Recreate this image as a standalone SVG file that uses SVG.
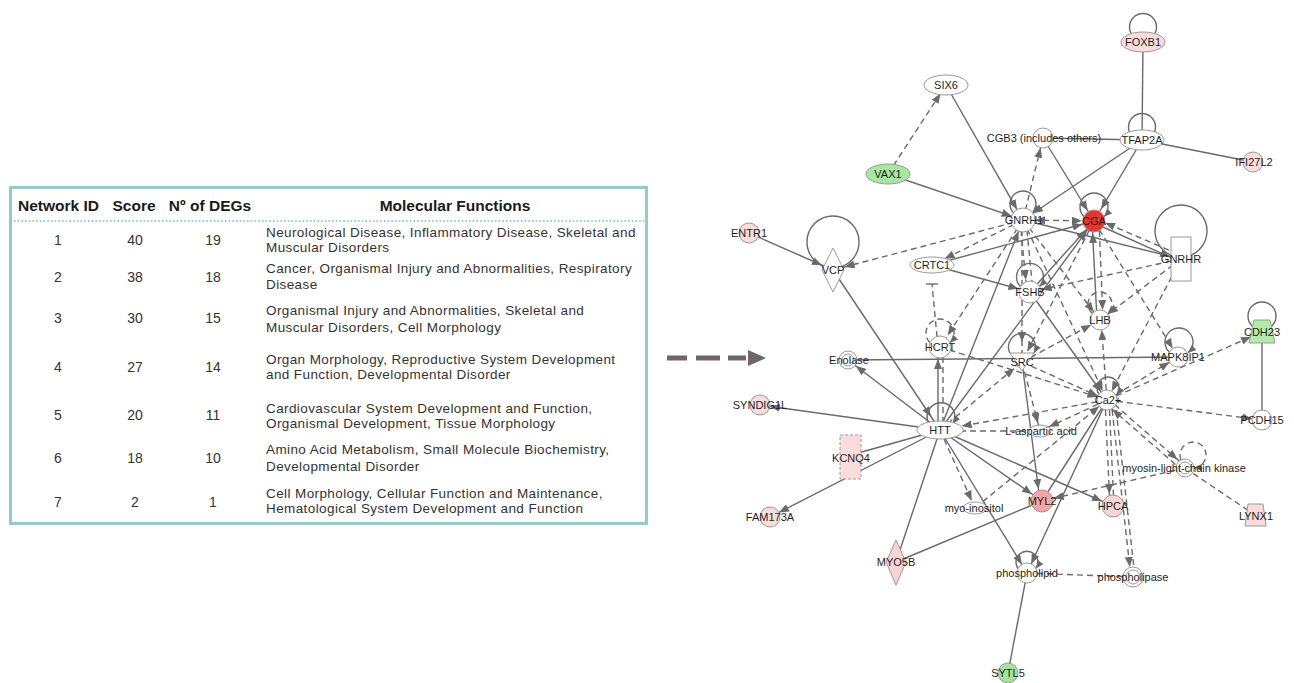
<svg xmlns="http://www.w3.org/2000/svg" width="1294" height="683" viewBox="0 0 1294 683">
<style>
.s{stroke:#6a6a6a;stroke-width:1.4;fill:none}
.d{stroke:#6a6a6a;stroke-width:1.4;fill:none;stroke-dasharray:6 4}
.nd{stroke:#9a9a9a;stroke-width:1;fill:#fff}
.pk{fill:#fbdcdc}
.n{font-family:"Liberation Sans",Arial,sans-serif;font-size:11px;fill:#1e1e1e;text-anchor:middle}
.th{font-family:"Liberation Sans",Arial,sans-serif;font-size:15.5px;font-weight:bold;fill:#1a1a1a;text-anchor:middle}
.tn{font-family:"Liberation Sans",Arial,sans-serif;font-size:14px;fill:#333;text-anchor:middle}
.tf{font-family:"Liberation Sans",Arial,sans-serif;font-size:13.5px;letter-spacing:0.4px;fill:#333}
</style>
<defs>
<marker id="a0" viewBox="0 0 10 8" refX="10" refY="4" markerWidth="10" markerHeight="8" markerUnits="userSpaceOnUse" orient="auto-start-reverse"><path d="M0,0L10,4L0,8Z" fill="#6a6a6a"/></marker>
<marker id="a8" viewBox="0 0 10 8" refX="18" refY="4" markerWidth="10" markerHeight="8" markerUnits="userSpaceOnUse" orient="auto-start-reverse"><path d="M0,0L10,4L0,8Z" fill="#6a6a6a"/></marker>
<marker id="a10" viewBox="0 0 10 8" refX="20" refY="4" markerWidth="10" markerHeight="8" markerUnits="userSpaceOnUse" orient="auto-start-reverse"><path d="M0,0L10,4L0,8Z" fill="#6a6a6a"/></marker>
<marker id="a12" viewBox="0 0 10 8" refX="22" refY="4" markerWidth="10" markerHeight="8" markerUnits="userSpaceOnUse" orient="auto-start-reverse"><path d="M0,0L10,4L0,8Z" fill="#6a6a6a"/></marker>
<marker id="a14" viewBox="0 0 10 8" refX="24" refY="4" markerWidth="10" markerHeight="8" markerUnits="userSpaceOnUse" orient="auto-start-reverse"><path d="M0,0L10,4L0,8Z" fill="#6a6a6a"/></marker>
<marker id="a16" viewBox="0 0 10 8" refX="26" refY="4" markerWidth="10" markerHeight="8" markerUnits="userSpaceOnUse" orient="auto-start-reverse"><path d="M0,0L10,4L0,8Z" fill="#6a6a6a"/></marker>
<marker id="a20" viewBox="0 0 10 8" refX="30" refY="4" markerWidth="10" markerHeight="8" markerUnits="userSpaceOnUse" orient="auto-start-reverse"><path d="M0,0L10,4L0,8Z" fill="#6a6a6a"/></marker>
<marker id="a22" viewBox="0 0 10 8" refX="32" refY="4" markerWidth="10" markerHeight="8" markerUnits="userSpaceOnUse" orient="auto-start-reverse"><path d="M0,0L10,4L0,8Z" fill="#6a6a6a"/></marker>
<marker id="lp" viewBox="0 0 8 7" refX="8" refY="3.5" markerWidth="8" markerHeight="7" markerUnits="userSpaceOnUse" orient="auto"><path d="M0,0L8,3.5L0,7Z" fill="#6a6a6a"/></marker>
</defs>
<rect width="1294" height="683" fill="#fff"/>

<g id="table">
<rect x="10.5" y="187.5" width="636" height="336" fill="#fff" stroke="#8ccfc8" stroke-width="3"/>
<line x1="14" y1="221" x2="644" y2="221" stroke="#8ccfc8" stroke-width="2" stroke-dasharray="1.5 2.2"/>
<text class="th" x="58.5" y="211">Network ID</text>
<text class="th" x="134" y="211">Score</text>
<text class="th" x="210" y="211">Nº of DEGs</text>
<text class="th" x="455" y="211">Molecular Functions</text>
<text class="tn" x="58" y="245">1</text><text class="tn" x="135" y="245">40</text><text class="tn" x="213" y="245">19</text>
<text class="tf" x="266" y="237">Neurological Disease, Inflammatory Disease, Skeletal and</text>
<text class="tf" x="266" y="252">Muscular Disorders</text>
<text class="tn" x="58" y="282">2</text><text class="tn" x="135" y="282">38</text><text class="tn" x="213" y="282">18</text>
<text class="tf" x="266" y="273">Cancer, Organismal Injury and Abnormalities, Respiratory</text>
<text class="tf" x="266" y="289">Disease</text>
<text class="tn" x="58" y="323">3</text><text class="tn" x="135" y="323">30</text><text class="tn" x="213" y="323">15</text>
<text class="tf" x="266" y="315">Organismal Injury and Abnormalities, Skeletal and</text>
<text class="tf" x="266" y="332">Muscular Disorders, Cell Morphology</text>
<text class="tn" x="58" y="372">4</text><text class="tn" x="135" y="372">27</text><text class="tn" x="213" y="372">14</text>
<text class="tf" x="266" y="364">Organ Morphology, Reproductive System Development</text>
<text class="tf" x="266" y="379">and Function, Developmental Disorder</text>
<text class="tn" x="58" y="420">5</text><text class="tn" x="135" y="420">20</text><text class="tn" x="213" y="420">11</text>
<text class="tf" x="266" y="413">Cardiovascular System Development and Function,</text>
<text class="tf" x="266" y="428">Organismal Development, Tissue Morphology</text>
<text class="tn" x="58" y="463">6</text><text class="tn" x="135" y="463">18</text><text class="tn" x="213" y="463">10</text>
<text class="tf" x="266" y="454">Amino Acid Metabolism, Small Molecule Biochemistry,</text>
<text class="tf" x="266" y="471">Developmental Disorder</text>
<text class="tn" x="58" y="507">7</text><text class="tn" x="135" y="507">2</text><text class="tn" x="213" y="507">1</text>
<text class="tf" x="266" y="498">Cell Morphology, Cellular Function and Maintenance,</text>
<text class="tf" x="266" y="513">Hematological System Development and Function</text>
</g>

<g id="big-arrow">
<line x1="667" y1="358" x2="687" y2="358" stroke="#6e6668" stroke-width="5"/>
<line x1="696" y1="358" x2="720" y2="358" stroke="#6e6668" stroke-width="5"/>
<line x1="728" y1="358" x2="746" y2="358" stroke="#6e6668" stroke-width="5"/>
<polygon points="748,350 766,358 748,366" fill="#6e6668"/>
</g>

<g id="connectors">
<circle class="s" cx="1143" cy="27" r="13.5"/>
<circle class="s" cx="1142" cy="127" r="13.5"/>
<circle class="s" cx="833" cy="242" r="26"/>
<circle class="s" cx="1181" cy="231" r="26"/>
<circle class="s" cx="1262" cy="316" r="14"/>
<path class="s" d="M1013.4,212.8A13,13 0 1 1 1032.6,212.8" marker-end="url(#lp)"/>
<path class="s" d="M1083.9,216.7A14,14 0 1 1 1104.1,216.7" marker-end="url(#lp)"/>
<path class="s" d="M1020.5,286.5A13.5,13.5 0 1 1 1039.5,286.5" marker-end="url(#lp)"/>
<path class="d" d="M1092.5,313.4A12,12 0 1 1 1107.5,313.4" marker-end="url(#lp)"/>
<path class="d" d="M929.9,342.7A14,14 0 1 1 950.1,342.7" marker-end="url(#lp)"/>
<path class="s" d="M1009.9,353A13.5,13.5 0 1 1 1034.1,353" marker-end="url(#lp)"/>
<path class="s" d="M1170,352.7A14,14 0 1 1 1188,352.7" marker-end="url(#lp)"/>
<path class="s" d="M1099.4,394.9A11,11 0 1 1 1116.6,394.9" marker-end="url(#lp)"/>
<path class="s" d="M929,424A14,14 0 1 1 953,424" marker-end="url(#lp)"/>
<path class="s" d="M1018,568.5A11,11 0 1 1 1036,568.5" marker-end="url(#lp)"/>
<path class="d" d="M1181,460A13,13 0 1 1 1194,468" marker-end="url(#lp)"/>

<line class="s" x1="946" y1="85" x2="1023" y2="220" marker-end="url(#a12)"/>
<line class="s" x1="888" y1="174" x2="1023" y2="220" marker-end="url(#a12)"/>
<line class="s" x1="1043" y1="138" x2="1094" y2="221" marker-end="url(#a12)"/>
<line class="s" x1="1043" y1="138" x2="1142" y2="140"/>
<line class="s" x1="1143" y1="42" x2="1142" y2="140"/>
<line class="s" x1="1142" y1="140" x2="1253" y2="162"/>
<line class="s" x1="1142" y1="140" x2="1023" y2="220" marker-end="url(#a12)"/>
<line class="s" x1="1142" y1="140" x2="1094" y2="221" marker-end="url(#a14)"/>
<line class="s" x1="749" y1="233" x2="833" y2="270" marker-end="url(#a12)"/>
<line class="s" x1="833" y1="270" x2="940" y2="430" marker-end="url(#a16)"/>
<line class="s" x1="932" y1="265" x2="1030" y2="292" marker-end="url(#a12)"/>
<line class="s" x1="932" y1="265" x2="1094" y2="221" marker-end="url(#a12)"/>
<line class="s" x1="1023" y1="220" x2="1181" y2="259"/>
<line class="s" x1="1094" y1="223" x2="1181" y2="262" marker-end="url(#a12)"/>
<line class="s" x1="1097" y1="320" x2="1092" y2="221" marker-end="url(#a12)"/>
<line class="s" x1="1030" y1="292" x2="1094" y2="221" marker-end="url(#a12)"/>
<line class="s" x1="1030" y1="292" x2="1107" y2="400" marker-end="url(#a10)"/>
<line class="s" x1="940" y1="430" x2="1023" y2="220" marker-end="url(#a12)"/>
<line class="s" x1="940" y1="430" x2="1094" y2="221" marker-end="url(#a12)"/>
<line class="s" x1="848" y1="360" x2="1178" y2="357"/>
<line class="s" x1="940" y1="430" x2="848" y2="360" marker-end="url(#a10)"/>
<line class="s" x1="940" y1="430" x2="760" y2="405" marker-end="url(#a10)"/>
<line class="s" x1="938" y1="430" x2="938" y2="347" marker-end="url(#a12)"/>
<line class="s" x1="940" y1="430" x2="851" y2="455"/>
<line class="s" x1="940" y1="430" x2="770" y2="517" marker-end="url(#a10)"/>
<line class="s" x1="940" y1="430" x2="896" y2="562"/>
<line class="s" x1="896" y1="562" x2="1042" y2="501"/>
<line class="s" x1="940" y1="430" x2="1042" y2="501" marker-end="url(#a12)"/>
<line class="s" x1="940" y1="430" x2="1113" y2="506" marker-end="url(#a12)"/>
<line class="s" x1="940" y1="430" x2="1027" y2="573" marker-end="url(#a10)"/>
<line class="s" x1="1022" y1="362" x2="1040" y2="501" marker-end="url(#a12)"/>
<line class="s" x1="1107" y1="400" x2="1042" y2="501"/>
<line class="s" x1="1107" y1="400" x2="1027" y2="573" marker-end="url(#a10)"/>
<line class="s" x1="1262" y1="332" x2="1262" y2="420"/>
<line class="s" x1="1027" y1="573" x2="1008" y2="673"/>

<line class="d" x1="888" y1="174" x2="946" y2="85" marker-end="url(#a10)"/>
<line class="d" x1="1023" y1="220" x2="1043" y2="138" marker-end="url(#a10)"/>
<line class="d" x1="1023" y1="220" x2="1094" y2="221" marker-start="url(#a12)" marker-end="url(#a12)"/>
<line class="d" x1="1023" y1="220" x2="932" y2="265" marker-end="url(#a14)"/>
<line class="d" x1="1023" y1="220" x2="833" y2="270" marker-end="url(#a12)"/>
<line class="d" x1="1020" y1="220" x2="1027" y2="292" marker-end="url(#a12)"/>
<line class="d" x1="1026" y1="220" x2="1033" y2="292"/>
<line class="d" x1="1022" y1="220" x2="1022" y2="362" marker-end="url(#a20)"/>
<line class="d" x1="1023" y1="220" x2="940" y2="347" marker-end="url(#a14)"/>
<line class="d" x1="1023" y1="220" x2="1100" y2="320" marker-end="url(#a10)"/>
<line class="d" x1="1023" y1="220" x2="1107" y2="400" marker-end="url(#a10)"/>
<line class="d" x1="1099" y1="221" x2="1103" y2="320" marker-end="url(#a10)"/>
<line class="d" x1="1094" y1="221" x2="1022" y2="362" marker-end="url(#a12)"/>
<line class="d" x1="1094" y1="221" x2="1178" y2="357" marker-end="url(#a10)"/>
<line class="d" x1="1178" y1="254" x2="1094" y2="218" marker-end="url(#a12)"/>
<line class="d" x1="1181" y1="259" x2="1030" y2="292" marker-end="url(#a12)"/>
<line class="d" x1="1181" y1="259" x2="1100" y2="320" marker-end="url(#a10)"/>
<line class="d" x1="1181" y1="259" x2="1107" y2="400" marker-end="url(#a10)"/>
<line class="d" x1="1022" y1="362" x2="1100" y2="320" marker-end="url(#a10)"/>
<line class="d" x1="1107" y1="400" x2="1101" y2="320" marker-end="url(#a10)"/>
<line class="d" x1="1107" y1="400" x2="1178" y2="357" marker-end="url(#a10)"/>
<line class="d" x1="1107" y1="400" x2="1262" y2="332" marker-end="url(#a12)"/>
<line class="d" x1="1107" y1="400" x2="1262" y2="420" marker-end="url(#a10)"/>
<line class="d" x1="1022" y1="362" x2="1107" y2="400" marker-end="url(#a10)"/>
<line class="d" x1="940" y1="347" x2="1107" y2="400" marker-end="url(#a10)"/>
<line class="d" x1="1107" y1="400" x2="940" y2="430" marker-end="url(#a22)"/>
<line class="d" x1="1107" y1="400" x2="1040" y2="431" marker-end="url(#a10)"/>
<line class="d" x1="940" y1="431" x2="1040" y2="431"/>
<line class="d" x1="1022" y1="362" x2="1040" y2="431" marker-end="url(#a8)"/>
<line class="d" x1="940" y1="430" x2="1022" y2="362" marker-end="url(#a10)"/>
<line class="d" x1="938" y1="347" x2="932" y2="284"/>
<line x1="926" y1="284" x2="938" y2="284" stroke="#6a6a6a" stroke-width="1.4"/>
<line class="d" x1="943" y1="347" x2="943" y2="430"/>
<line class="d" x1="940" y1="430" x2="975" y2="508" marker-end="url(#a8)"/>
<line class="d" x1="975" y1="508" x2="1107" y2="400" marker-end="url(#a10)"/>
<line class="d" x1="1105" y1="400" x2="1110" y2="506" marker-end="url(#a12)"/>
<line class="d" x1="1109" y1="400" x2="1114" y2="506"/>
<line class="d" x1="1111" y1="400" x2="1131" y2="577" marker-end="url(#a10)"/>
<line class="d" x1="1115" y1="400" x2="1135" y2="577"/>
<line class="d" x1="1107" y1="398" x2="1185" y2="466" marker-end="url(#a10)"/>
<line class="d" x1="1183" y1="471" x2="1105" y2="403" marker-end="url(#a10)"/>
<line class="d" x1="1185" y1="468" x2="1042" y2="501" marker-end="url(#a12)"/>
<line class="d" x1="1185" y1="468" x2="1255" y2="515"/>
<line class="d" x1="1027" y1="573" x2="1133" y2="577"/>
</g>

<g id="FOXB1"><ellipse class="nd pk" cx="1143" cy="42" rx="22" ry="10"/><text class="n" x="1143" y="45.8">FOXB1</text></g>
<g id="SIX6"><ellipse class="nd" cx="946" cy="85" rx="22" ry="10"/><text class="n" x="946" y="88.8">SIX6</text></g>
<g id="TFAP2A"><ellipse class="nd" cx="1142" cy="140" rx="22" ry="10"/><text class="n" x="1142" y="143.8">TFAP2A</text></g>
<g id="CGB3"><circle class="nd" cx="1043" cy="138" r="10"/><text class="n" x="1044" y="141.8">CGB3 (includes others)</text></g>
<g id="IFI27L2"><circle class="nd pk" cx="1253" cy="162" r="10"/><text class="n" x="1254" y="165.8">IFI27L2</text></g>
<g id="VAX1"><ellipse class="nd" style="fill:#a6e8a0" cx="888" cy="174" rx="22" ry="10"/><text class="n" x="888" y="177.8">VAX1</text></g>
<g id="GNRH1"><circle class="nd" cx="1023" cy="220" r="12"/><text class="n" x="1024" y="223.8">GNRH1</text></g>
<g id="CGA"><circle class="nd" style="fill:#e8332f" cx="1094" cy="221" r="11"/><text class="n" x="1094" y="224.8">CGA</text></g>
<g id="ENTR1"><circle class="nd pk" cx="749" cy="233" r="10"/><text class="n" x="749" y="236.8">ENTR1</text></g>
<g id="VCP"><polygon class="nd" points="833,248 844,270 833,292 822,270"/><text class="n" x="833" y="273.8">VCP</text></g>
<g id="CRTC1"><ellipse class="nd" cx="932" cy="265" rx="22" ry="8"/><text class="n" x="932" y="268.8">CRTC1</text></g>
<g id="GNRHR"><rect class="nd" x="1171" y="237" width="20" height="44"/><text class="n" x="1181" y="262.8">GNRHR</text></g>
<g id="FSHB"><circle class="nd" cx="1030" cy="292" r="11"/><text class="n" x="1030" y="295.8">FSHB</text></g>
<g id="LHB"><circle class="nd" cx="1100" cy="320" r="10"/><text class="n" x="1100" y="323.8">LHB</text></g>
<g id="HCRT"><circle class="nd" cx="940" cy="347" r="11"/><text class="n" x="940" y="350.8">HCRT</text></g>
<g id="SRC"><polygon class="nd" points="1010,353 1034,353 1022,371"/><text class="n" x="1022" y="365.8">SRC</text></g>
<g id="Enolase"><circle class="nd" cx="848" cy="360" r="9"/><circle class="nd" cx="848" cy="360" r="6"/><text class="n" x="849" y="363.8">Enolase</text></g>
<g id="MAPK8IP1"><circle class="nd" cx="1178" cy="357" r="10"/><text class="n" x="1178" y="360.8">MAPK8IP1</text></g>
<g id="CDH23"><polygon class="nd" style="fill:#b3ecaa" points="1254,320 1270,320 1275,343 1249,343"/><text class="n" x="1262" y="335.8">CDH23</text></g>
<g id="Ca2"><circle class="nd" cx="1107" cy="400" r="10"/><text class="n" x="1108" y="403.8">Ca2+</text></g>
<g id="SYNDIG1L"><circle class="nd pk" cx="760" cy="405" r="10"/><text class="n" x="760" y="408.8">SYNDIG1L</text></g>
<g id="PCDH15"><circle class="nd" cx="1262" cy="420" r="10"/><text class="n" x="1262" y="423.8">PCDH15</text></g>
<g id="HTT"><ellipse class="nd" cx="940" cy="430" rx="23" ry="9"/><text class="n" x="940" y="433.8">HTT</text></g>
<g id="L-aspartic-acid"><ellipse class="nd" cx="1040" cy="431" rx="11" ry="6"/><text class="n" x="1041" y="434.8">L-aspartic acid</text></g>
<g id="KCNQ4"><rect class="nd pk" style="stroke-dasharray:3 2" x="840" y="435" width="21" height="44"/><text class="n" x="851" y="461.8">KCNQ4</text></g>
<g id="myosin-light-chain-kinase"><circle class="nd" cx="1185" cy="468" r="9"/><circle class="nd" cx="1185" cy="468" r="6"/><text class="n" x="1184" y="471.8">myosin-light-chain kinase</text></g>
<g id="FAM173A"><circle class="nd pk" cx="770" cy="517" r="10"/><text class="n" x="770" y="520.8">FAM173A</text></g>
<g id="myo-inositol"><ellipse class="nd" cx="975" cy="508" rx="12" ry="6"/><text class="n" x="974" y="511.8">myo-inositol</text></g>
<g id="MYL2"><circle class="nd" style="fill:#f3a5a5" cx="1042" cy="501" r="11"/><text class="n" x="1042" y="504.8">MYL2</text></g>
<g id="HPCA"><circle class="nd" style="fill:#f9d5d5" cx="1113" cy="506" r="11"/><text class="n" x="1113" y="509.8">HPCA</text></g>
<g id="LYNX1"><polygon class="nd pk" points="1248,504 1263,504 1266,526 1245,526"/><text class="n" x="1256" y="519.8">LYNX1</text></g>
<g id="MYO5B"><polygon class="nd" style="fill:#f9d3d3" points="896,540 906,562 896,585 886,562"/><text class="n" x="896" y="565.8">MYO5B</text></g>
<g id="phospholipid"><circle class="nd" cx="1027" cy="573" r="10"/><text class="n" x="1027" y="576.8">phospholipid</text></g>
<g id="phospholipase"><circle class="nd" cx="1133" cy="577" r="10"/><circle class="nd" cx="1133" cy="577" r="7"/><text class="n" x="1133" y="580.8">phospholipase</text></g>
<g id="SYTL5"><circle class="nd" style="fill:#a2e59a" cx="1008" cy="673" r="10"/><text class="n" x="1008" y="676.8">SYTL5</text></g>
</svg>
